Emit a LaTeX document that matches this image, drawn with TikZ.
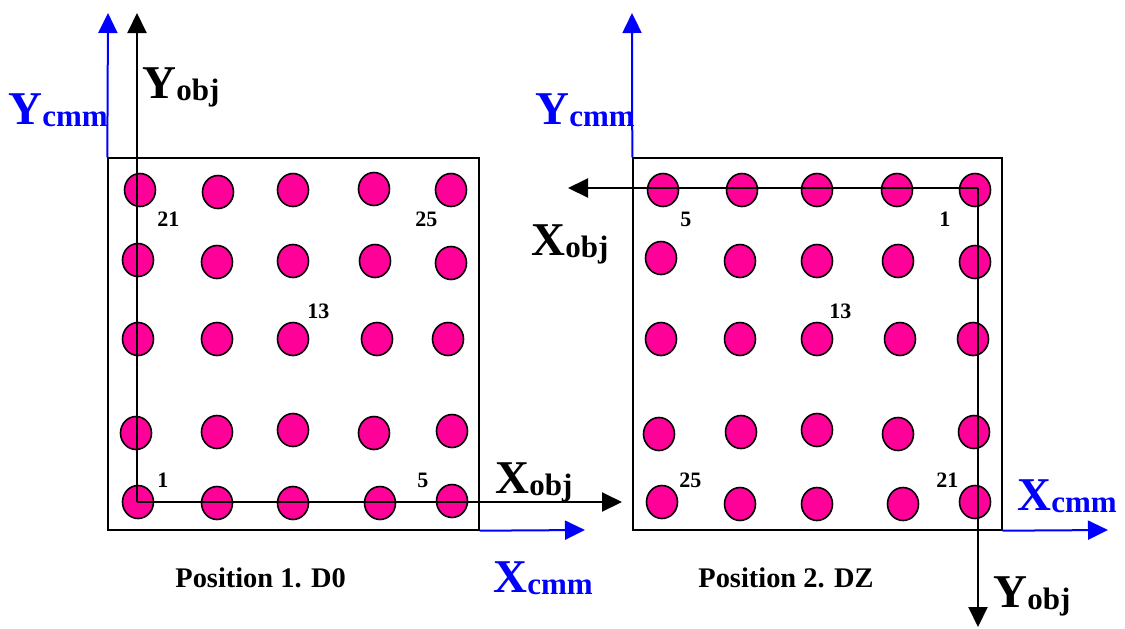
\documentclass[tikz,border=0pt]{standalone}
\usepackage{fontspec}
\setmainfont{Liberation Serif}
\usepackage{tikz}
\usetikzlibrary{arrows.meta, shapes.geometric}
\definecolor{dotpink}{RGB}{255, 0, 153}
\definecolor{cmmblue}{RGB}{0, 0, 255}
\tikzset{
    plate/.style ={draw=black, line width=0.7pt, minimum width=185.5pt,
                   minimum height=186pt, inner sep=0pt},
    dot/.style   ={ellipse, draw=black, line width=0.8pt, fill=dotpink,
                   minimum width=15.5pt, minimum height=16.5pt, inner sep=0pt},
    objax/.style ={-{Triangle[length=10pt, width=9.5pt]}, line width=1pt, draw=black},
    cmmax/.style ={-{Triangle[length=10pt, width=9.5pt]}, line width=1pt, draw=cmmblue},
    axlbl/.style ={font=\bfseries, inner sep=0pt, anchor=base west},
    num/.style   ={font=\bfseries\fontsize{11}{12}\selectfont, inner sep=0pt, anchor=base west},
    captxt/.style={font=\bfseries\fontsize{14.2}{16}\selectfont, inner sep=0pt, anchor=base west}
}
\newcommand{\axname}[2]{{\fontsize{23.5}{24}\selectfont #1}\raisebox{-1.2pt}{\fontsize{15.5}{16}\selectfont #2}}

\begin{document}
\begin{tikzpicture}[x=0.5pt, y=-0.5pt]
  \useasboundingbox (0,0) rectangle (1125,628);

  % the two plates
  \node[plate] (pl1) at (293.5,344) {};
  \node[plate, minimum width=184.5pt] (pl2) at (817.5,344) {};

  % hole pattern, position 1
  \foreach \x/\y [count=\i] in {140/190, 218/192, 293/190, 374/189, 451/190,
                                138/260, 217/262, 293/261, 375/261, 451/263,
                                138/339, 217/339, 293/339, 377/339, 448/339,
                                136/433, 217/432, 293/430, 374/433, 452/431,
                                138/502, 217/503, 293/503, 380/503, 452/501}
    \node[dot] (ha\i) at (\x,\y) {};
  % hole pattern, position 2
  \foreach \x/\y [count=\i] in {663/190, 742/190, 817/190, 897/190, 975/190,
                                661/258, 740/261, 817/261, 898/261, 975/262,
                                661/339, 740/339, 817/339, 900/339, 973/339,
                                659/434, 741/432, 817/430, 898/434, 974/432,
                                662/502, 740/504, 817/504, 903/504, 975/502}
    \node[dot] (hb\i) at (\x,\y) {};

  % cmm axes
  \coordinate (ycmm1) at (108,13);
  \coordinate (xcmm1) at (585,530);
  \coordinate (ycmm2) at (632,13);
  \coordinate (xcmm2) at (1108,530);
  \draw[cmmax] (pl1.north west) -- (ycmm1);
  \draw[cmmax] (pl1.south east) -- (xcmm1);
  \draw[cmmax] (pl2.north west) -- (ycmm2);
  \draw[cmmax] (pl2.south east) -- (xcmm2);

  % object axes
  \coordinate (o1) at (137,502);
  \coordinate (yobj1) at (137,13);
  \coordinate (xobj1) at (622,502);
  \draw[objax] (o1) -- (yobj1);
  \draw[objax] (o1) -- (xobj1);
  \coordinate (o2) at (978,188);
  \coordinate (xobj2) at (568,188);
  \coordinate (yobj2) at (978,627);
  \draw[objax] (o2) -- (xobj2);
  \draw[objax] (o2) -- (yobj2);

  % axis names
  \node[axlbl] (lyobj1) at (142,98)  {\axname{Y}{obj}};
  \node[axlbl, text=cmmblue] (lycmm1) at (8,124) {\axname{Y}{cmm}};
  \node[axlbl] (lxobj1) at (495,493) {\axname{X}{obj}};
  \node[axlbl, text=cmmblue] (lxcmm1) at (493,592) {\axname{X}{cmm}};
  \node[axlbl, text=cmmblue] (lycmm2) at (535,124) {\axname{Y}{cmm}};
  \node[axlbl] (lxobj2) at (531,255) {\axname{X}{obj}};
  \node[axlbl, text=cmmblue] (lxcmm2) at (1017,510) {\axname{X}{cmm}};
  \node[axlbl] (lyobj2) at (993,607) {\axname{Y}{obj}};

  % hole numbers
  \node[num] (na21) at (157,226) {21};
  \node[num] (na25) at (415,226) {25};
  \node[num] (na13) at (307,318) {13};
  \node[num] (na1)  at (157,487) {1};
  \node[num] (na5)  at (417,487) {5};
  \node[num] (nb5)  at (680,226) {5};
  \node[num] (nb1)  at (939,226) {1};
  \node[num] (nb13) at (829,318) {13};
  \node[num] (nb25) at (679,487) {25};
  \node[num] (nb21) at (936,487) {21};

  % captions
  \node[captxt] (cap1) at (175,587) {Position 1. D0};
  \node[captxt] (cap2) at (698,587) {Position 2. DZ};
\end{tikzpicture}
\end{document}
